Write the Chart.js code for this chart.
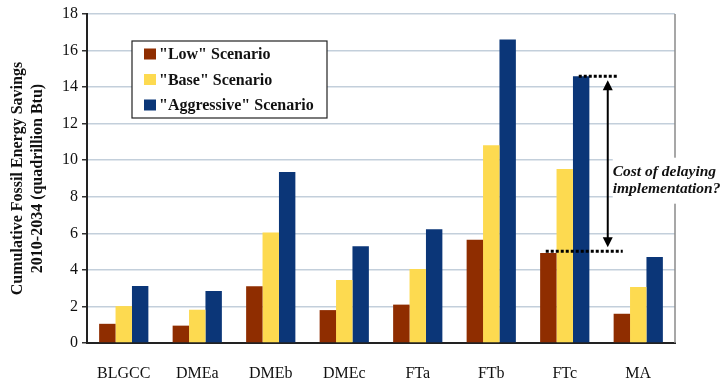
<!DOCTYPE html>
<html>
<head>
<meta charset="utf-8">
<script src="https://cdn.jsdelivr.net/npm/chart.js@4"></script>
<style>
  html, body { margin: 0; padding: 0; background: #fff; }
  #wrap { width: 723px; height: 381px; position: relative; }
</style>
</head>
<body>
<div id="wrap"><canvas id="savingsChart"></canvas></div>
<script>
let categories = ['BLGCC', 'DMEa', 'DMEb', 'DMEc', 'FTa', 'FTb', 'FTc', 'MA'];
let lowScenario = [1.05, 0.95, 3.1, 1.8, 2.1, 5.65, 4.92, 1.6];
let baseScenario = [2.02, 1.82, 6.05, 3.45, 4.05, 10.82, 9.52, 3.06];
let aggressiveScenario = [3.12, 2.85, 9.35, 5.3, 6.23, 16.6, 14.6, 4.7];
let yTicks = [0, 2, 4, 6, 8, 10, 12, 14, 16, 18];

// the "delay" bracket drawn next to FTc
let delayCategory = 'FTc';
let delayTop = 14.6;
let delayBottom = 5.02;
let delayText = ['Cost of delaying', 'implementation?'];

let serif = '"Liberation Serif", "Times New Roman", serif';

let overlayPlugin = {
    id : 'overlay',
    afterDraw(chart) {
        let ctx = chart.ctx;
        let area = chart.chartArea;
        let x = chart.scales.x;
        let y = chart.scales.y;

        // right border of plot area
        ctx.save();
        ctx.strokeStyle = '#8a8a8a';
        ctx.lineWidth = 1.5;
        ctx.beginPath();
        ctx.moveTo(area.right, area.top);
        ctx.lineTo(area.right, area.bottom);
        ctx.stroke();

        // legend
        let lx = area.left + 45, ly = area.top + 27, lw = 195, lh = 77;
        ctx.fillStyle = '#fff';
        ctx.fillRect(lx, ly, lw, lh);
        ctx.strokeStyle = '#222';
        ctx.lineWidth = 1.2;
        ctx.strokeRect(lx, ly, lw, lh);
        ctx.font = 'bold 16px ' + serif;
        ctx.textBaseline = 'middle';
        ctx.textAlign = 'left';
        chart.data.datasets.forEach((ds, i) => {
            let rowY = ly + 13 + i * 25.5;
            ctx.fillStyle = ds.backgroundColor;
            ctx.fillRect(lx + 12, rowY - 5.5, 12, 11);
            ctx.fillStyle = '#111';
            ctx.fillText(ds.label, lx + 27, rowY + 1);
        });

        // delay bracket
        let cx = x.getPixelForValue(categories.indexOf(delayCategory));
        let yTop = y.getPixelForValue(delayTop);
        let yBot = y.getPixelForValue(delayBottom);
        ctx.strokeStyle = '#000';
        ctx.lineWidth = 3;
        ctx.setLineDash([3, 2]);
        ctx.beginPath();
        ctx.moveTo(cx + 14, yTop);
        ctx.lineTo(cx + 53, yTop);
        ctx.moveTo(cx - 19, yBot);
        ctx.lineTo(cx + 58, yBot);
        ctx.stroke();
        ctx.setLineDash([]);

        let ax = cx + 43;
        ctx.lineWidth = 2;
        ctx.beginPath();
        ctx.moveTo(ax, yTop + 12);
        ctx.lineTo(ax, yBot - 12);
        ctx.stroke();
        ctx.fillStyle = '#000';
        ctx.beginPath();
        ctx.moveTo(ax, yTop + 4);
        ctx.lineTo(ax - 5, yTop + 14);
        ctx.lineTo(ax + 5, yTop + 14);
        ctx.closePath();
        ctx.fill();
        ctx.beginPath();
        ctx.moveTo(ax, yBot - 4);
        ctx.lineTo(ax - 5, yBot - 14);
        ctx.lineTo(ax + 5, yBot - 14);
        ctx.closePath();
        ctx.fill();

        let tx = ax + 5;
        let ty = (yTop + yBot) / 2 + 8;
        ctx.fillStyle = '#fff';
        ctx.fillRect(tx, ty - 14, 115, 46);
        ctx.fillStyle = '#111';
        ctx.font = 'italic bold 15.5px ' + serif;
        ctx.textBaseline = 'middle';
        ctx.fillText(delayText[0], tx, ty);
        ctx.fillText(delayText[1], tx, ty + 17);
        ctx.restore();
    }
};

let chartContainer = document.getElementById('savingsChart').getContext('2d');

let config = {
    type : 'bar',
    data : {
        labels : categories,
        datasets : [
            { label : '"Low" Scenario', data : lowScenario, backgroundColor : '#8f2d00' },
            { label : '"Base" Scenario', data : baseScenario, backgroundColor : '#fdda50' },
            { label : '"Aggressive" Scenario', data : aggressiveScenario, backgroundColor : '#0b3678' }
        ]
    },
    options : {
        responsive : true,
        maintainAspectRatio : false,
        animation : false,
        datasets : {
            bar : { categoryPercentage : 0.67, barPercentage : 1.0, borderWidth : 0 }
        },
        layout : { padding : { left : 0, right : 48, top : 14, bottom : 0 } },
        plugins : {
            legend : { display : false },
            tooltip : { enabled : false }
        },
        scales : {
            x : {
                grid : { display : false },
                border : { display : true, color : '#222', width : 2 },
                ticks : { color : '#111', padding : 13, font : { family : serif, size : 16 } },
                afterFit(scale) { scale.height = 38; }
            },
            y : {
                min : 0,
                max : 18,
                afterBuildTicks(scale) { scale.ticks = yTicks.map(v => ({ value : v })); },
                grid : { color : '#c3cfdb', lineWidth : 1.5, tickColor : '#333', tickLength : 5 },
                border : { display : true, color : '#222', width : 2 },
                ticks : { color : '#111', padding : 4, font : { family : serif, size : 16 } },
                title : {
                    display : true,
                    text : ['Cumulative Fossil Energy Savings', '2010-2034 (quadrillion Btu)'],
                    color : '#111',
                    padding : { top : 8, bottom : 0 },
                    font : { family : serif, size : 16, weight : 'bold', lineHeight : 1.25 }
                },
                afterFit(scale) { scale.width = 87; }
            }
        }
    },
    plugins : [overlayPlugin]
};

let chart = new Chart(chartContainer, config);
</script>
</body>
</html>
